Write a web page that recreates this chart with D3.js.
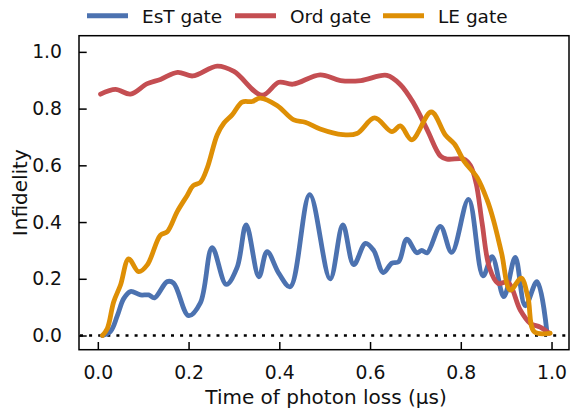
<!DOCTYPE html>
<html>
<head>
<meta charset="utf-8">
<script src="https://cdn.jsdelivr.net/npm/d3@7"></script>
<style>
  html, body { margin: 0; padding: 0; background: #fff; }
  svg { display: block; font-family: "DejaVu Sans", sans-serif; }
</style>
</head>
<body>
<svg id="chart" width="570" height="411"></svg>
<script>
// ---- data ----
const seriesNames = ["EsT gate", "Ord gate", "LE gate"];
const seriesColors = ["#4c72b0", "#c44e52", "#de8f05"];

const estX = [0.010, 0.028, 0.043, 0.057, 0.072, 0.094, 0.112, 0.125, 0.153, 0.167, 0.200, 0.226, 0.252, 0.283, 0.307, 0.327, 0.355, 0.373, 0.399, 0.424, 0.467, 0.512, 0.540, 0.564, 0.590, 0.608, 0.629, 0.648, 0.663, 0.681, 0.703, 0.714, 0.726, 0.755, 0.780, 0.817, 0.849, 0.869, 0.895, 0.920, 0.942, 0.968, 0.990];
const estY = [0.000, 0.015, 0.070, 0.130, 0.155, 0.143, 0.143, 0.133, 0.190, 0.185, 0.070, 0.115, 0.310, 0.180, 0.240, 0.390, 0.207, 0.296, 0.219, 0.172, 0.497, 0.200, 0.390, 0.250, 0.325, 0.300, 0.222, 0.255, 0.260, 0.340, 0.292, 0.300, 0.292, 0.385, 0.293, 0.480, 0.210, 0.278, 0.137, 0.275, 0.105, 0.190, 0.010];

const ordX = [0.006, 0.039, 0.072, 0.109, 0.138, 0.176, 0.209, 0.263, 0.300, 0.362, 0.399, 0.430, 0.490, 0.535, 0.580, 0.637, 0.667, 0.696, 0.726, 0.755, 0.770, 0.806, 0.821, 0.834, 0.847, 0.863, 0.882, 0.904, 0.931, 0.953, 0.975, 0.995];
const ordY = [0.851, 0.868, 0.851, 0.888, 0.903, 0.928, 0.915, 0.950, 0.931, 0.847, 0.893, 0.886, 0.919, 0.899, 0.899, 0.917, 0.884, 0.819, 0.725, 0.633, 0.622, 0.622, 0.600, 0.535, 0.396, 0.240, 0.184, 0.188, 0.090, 0.043, 0.030, 0.008];

const leX = [0.010, 0.021, 0.035, 0.050, 0.068, 0.090, 0.109, 0.138, 0.153, 0.175, 0.197, 0.210, 0.226, 0.241, 0.263, 0.278, 0.296, 0.318, 0.340, 0.358, 0.395, 0.432, 0.457, 0.490, 0.540, 0.571, 0.610, 0.648, 0.667, 0.692, 0.735, 0.766, 0.786, 0.808, 0.836, 0.858, 0.872, 0.890, 0.909, 0.933, 0.948, 0.962, 0.997];
const leY = [0.000, 0.025, 0.119, 0.178, 0.270, 0.225, 0.249, 0.354, 0.366, 0.437, 0.494, 0.528, 0.540, 0.590, 0.707, 0.749, 0.778, 0.823, 0.825, 0.837, 0.811, 0.760, 0.752, 0.728, 0.708, 0.712, 0.767, 0.719, 0.739, 0.690, 0.788, 0.707, 0.675, 0.613, 0.557, 0.478, 0.407, 0.290, 0.160, 0.202, 0.135, 0.013, 0.008];

const xTicks = [0.0, 0.2, 0.4, 0.6, 0.8, 1.0];
const yTicks = [0.0, 0.2, 0.4, 0.6, 0.8, 1.0];
const xLabel = "Time of photon loss (μs)";
const yLabel = "Infidelity";

// ---- layout ----
const L = 79, R = 569, T = 35.7, B = 349.7;
const x = d3.scaleLinear().domain([-0.0415, 1.0385]).range([L, R]);
const y = d3.scaleLinear().domain([-0.050, 1.057]).range([B, T]);

const svg = d3.select("#chart");

// zero reference line (dotted)
svg.append("line")
  .attr("x1", L + 1).attr("x2", R)
  .attr("y1", y(0)).attr("y2", y(0))
  .attr("stroke", "#000").attr("stroke-width", 2.6)
  .attr("stroke-dasharray", "3,6.1");

// curves
const series = [
  { xs: estX, ys: estY },
  { xs: ordX, ys: ordY },
  { xs: leX, ys: leY }
];
const line = d3.line()
  .x(d => x(d[0])).y(d => y(d[1]))
  .curve(d3.curveCatmullRom.alpha(0.5));

svg.append("clipPath").attr("id", "clip")
  .append("rect").attr("x", L).attr("y", T).attr("width", R - L).attr("height", B - T);

series.forEach((s, i) => {
  const pts = s.xs.map((v, j) => [v, s.ys[j]]);
  svg.append("path")
    .attr("d", line(pts))
    .attr("fill", "none")
    .attr("stroke", seriesColors[i])
    .attr("stroke-width", 4.8)
    .attr("stroke-linejoin", "round")
    .attr("stroke-linecap", "round")
    .attr("clip-path", "url(#clip)");
});

// axes (ticks inward)
const xAxis = d3.axisBottom(x).tickValues(xTicks).tickFormat(d3.format(".1f"))
  .tickSizeInner(-7.7).tickSizeOuter(0).tickPadding(16);
const yAxis = d3.axisLeft(y).tickValues(yTicks).tickFormat(d3.format(".1f"))
  .tickSizeInner(-7.7).tickSizeOuter(0).tickPadding(17);

const gx = svg.append("g").attr("transform", `translate(0,${B})`).call(xAxis);
const gy = svg.append("g").attr("transform", `translate(${L},0)`).call(yAxis);
[gx, gy].forEach(g => {
  g.select(".domain").remove();
  g.selectAll(".tick line").attr("stroke", "#000").attr("stroke-width", 1.5);
  g.selectAll(".tick text").attr("fill", "#111")
    .style("font-family", "DejaVu Sans").style("font-size", "18.8px");
});

// frame
svg.append("rect")
  .attr("x", L).attr("y", T).attr("width", R - L).attr("height", B - T)
  .attr("fill", "none").attr("stroke", "#000").attr("stroke-width", 1.5);

// axis labels
svg.append("text")
  .attr("x", (L + R) / 2 + 2).attr("y", 404)
  .attr("text-anchor", "middle")
  .style("font-size", "20px").attr("fill", "#111")
  .text(xLabel);
svg.append("text")
  .attr("transform", `translate(26.5,${(T + B) / 2}) rotate(-90)`)
  .attr("text-anchor", "middle")
  .style("font-size", "20px").attr("fill", "#111")
  .text(yLabel);

// legend
const legendX = [87, 235, 383];
const lg = svg.append("g");
seriesNames.forEach((name, i) => {
  lg.append("line")
    .attr("x1", legendX[i]).attr("x2", legendX[i] + 41)
    .attr("y1", 15.7).attr("y2", 15.7)
    .attr("stroke", seriesColors[i]).attr("stroke-width", 5);
  lg.append("text")
    .attr("x", legendX[i] + 55).attr("y", 22.5)
    .style("font-size", "18.5px").attr("fill", "#111")
    .text(name);
});
</script>
</body>
</html>
